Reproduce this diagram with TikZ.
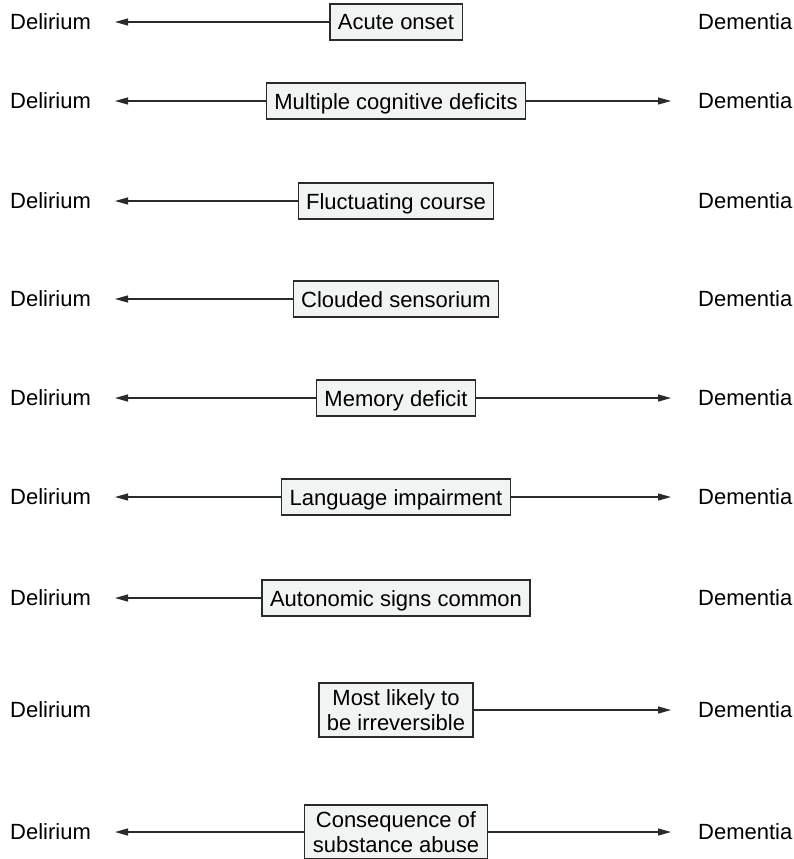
\documentclass[tikz,border=0pt]{standalone}
\usepackage{fontspec}
\setmainfont{Liberation Sans}
\usetikzlibrary{arrows.meta}
\definecolor{boxfill}{HTML}{F2F3F3}
\definecolor{ink}{HTML}{2A2A2A}
\begin{document}
\begin{tikzpicture}[x=1pt,y=-1pt,
  feature/.style={draw=ink, fill=boxfill, line width=1.2pt, inner xsep=8pt, inner ysep=0pt,
    minimum height=36pt, text height=16pt, text depth=0pt,
    font=\fontsize{22}{25}\selectfont},
  feature2/.style={draw=ink, fill=boxfill, line width=1.2pt, inner xsep=8pt, inner ysep=0pt,
    minimum height=54pt, align=center, font=\fontsize{22}{25}\selectfont},
  side/.style={font=\fontsize{22}{25}\selectfont, inner sep=0pt},
  link/.style={line width=1.2pt, draw=ink, -{Triangle[length=13pt,width=7pt]}}]
\useasboundingbox (0,0) rectangle (794,859);
\clip (0,0) rectangle (794,859);

% row labels on both sides and arrow end points
\foreach \r/\y in {1/22,2/101,3/201,4/299,5/398,6/497,7/598,8/710,9/832}{
  \node[side, anchor=west] (dl\r) at (10,\y) {Delirium};
  \node[side, anchor=west] (dm\r) at (698,\y) {Dementia};
  \coordinate (l\r) at (115,\y);
  \coordinate (r\r) at (671,\y);
}

% feature boxes
\node[feature] (f1) at (396,22)  {Acute onset};
\node[feature] (f2) at (396,101) {Multiple cognitive deficits};
\node[feature] (f3) at (396,201) {Fluctuating course};
\node[feature] (f4) at (396,299) {Clouded sensorium};
\node[feature] (f5) at (396,398) {Memory deficit};
\node[feature] (f6) at (396,497) {Language impairment};
\node[feature] (f7) at (396,598) {Autonomic signs common};
\node[feature2] (f8) at (396,710) {Most likely to\\be irreversible};
\node[feature2] (f9) at (396,832) {Consequence of\\substance abuse};

% arrows toward delirium
\foreach \r in {1,2,3,4,5,6,7,9}{ \draw[link] (f\r.west) -- (l\r); }
% arrows toward dementia
\foreach \r in {2,5,6,8,9}{ \draw[link] (f\r.east) -- (r\r); }
\end{tikzpicture}
\end{document}
